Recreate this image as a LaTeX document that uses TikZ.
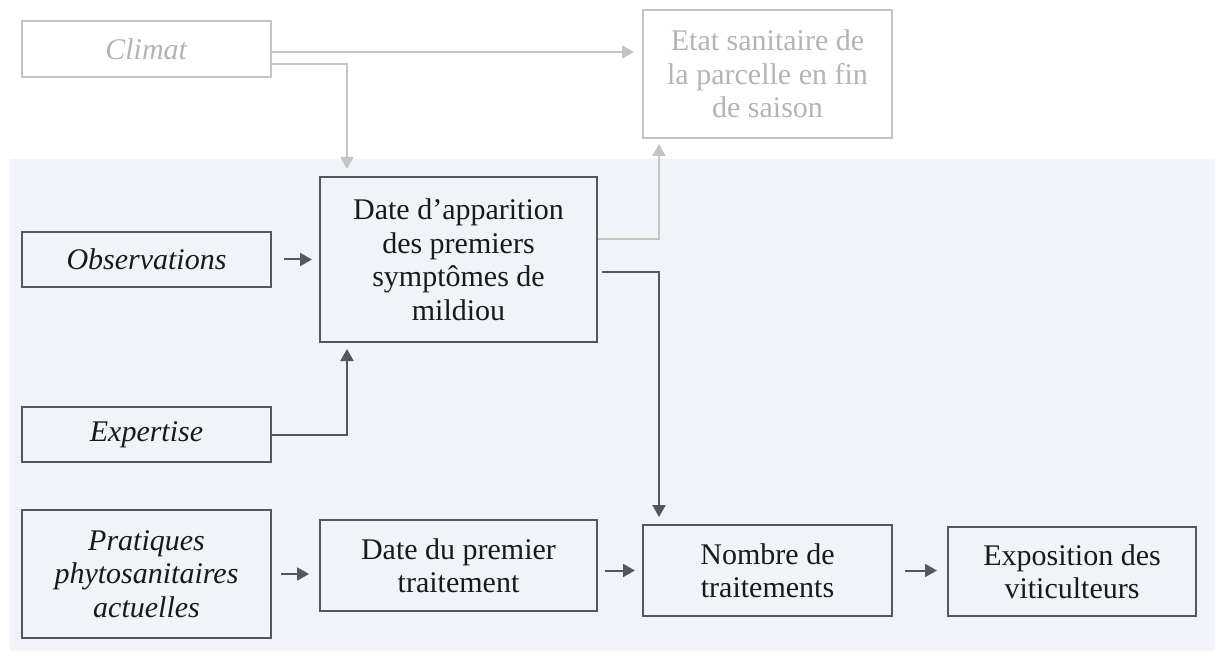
\documentclass[tikz,border=0pt]{standalone}
\usepackage{fontspec}
\setmainfont{Liberation Serif}
\usetikzlibrary{arrows.meta, positioning, calc}
\definecolor{darkline}{RGB}{84, 88, 92}
\definecolor{darktext}{RGB}{25, 25, 25}
\definecolor{greyline}{RGB}{196, 196, 196}
\definecolor{greytext}{RGB}{180, 180, 180}
\definecolor{panelbg}{RGB}{240, 244, 248}

\begin{document}
\begin{tikzpicture}[x=0.5pt, y=-0.5pt,
  box/.style={draw=darkline, line width=1pt, text=darktext, align=center,
              inner sep=0pt, font=\fontsize{15}{16.75}\selectfont},
  faded/.style={box, draw=greyline, text=greytext},
  darrow/.style={draw=darkline, line width=1pt, -{Triangle[length=6pt, width=6.5pt]}},
  garrow/.style={darrow, draw=greyline},
]
\useasboundingbox (0,0) rectangle (1215,652);
% Background panel
\fill[panelbg] (10,159) rectangle (1215,651);

% Context (faded)
\node[faded, minimum width=124.5pt, minimum height=28pt] (clim) at (146.5, 49) {\textit{Climat}};
\node[faded, minimum width=124.5pt, minimum height=64pt] (etat) at (767.5, 74)
     {Etat sanitaire de\\la parcelle en fin\\de saison};

% Inputs on the left
\node[box, minimum width=124.5pt, minimum height=27.5pt] (obs) at (146.5, 259.5) {\textit{Observations}};
\node[box, minimum width=124.5pt, minimum height=27.5pt] (expert) at (146.5, 434.5) {\textit{Expertise}};
\node[box, minimum width=124.5pt, minimum height=64pt] (prat) at (146.5, 574)
     {\textit{Pratiques}\\\textit{phytosanitaires}\\\textit{actuelles}};

% Main chain
\node[box, minimum width=138.5pt, minimum height=82.5pt] (app) at (458.5, 259.5)
     {Date d'apparition\\des premiers\\symptômes de\\mildiou};
\node[box, minimum width=138.5pt, minimum height=45.5pt] (trait1) at (458.5, 565.5)
     {Date du premier\\traitement};
\node[box, minimum width=124.5pt, minimum height=45.5pt] (nbtrt) at (767.5, 570.5)
     {Nombre de\\traitements};
\node[box, minimum width=124pt, minimum height=44.5pt] (expo) at (1072, 571.5)
     {Exposition des\\viticulteurs};

% Faded connectors
\draw[garrow, shorten >=4pt] ([yshift=-1.5pt]clim.east) -- ([yshift=-1.5pt]clim.east -| etat.west);
\draw[garrow, shorten >=3.5pt] ([yshift=-7.5pt]clim.east) -| ([xshift=14pt]app.north west);
\draw[garrow, shorten >=2.5pt] ([yshift=10.25pt]app.east) -| ([xshift=8.5pt]etat.south west);

% Dark connectors
\draw[darrow, shorten <=6pt, shorten >=3.5pt] (obs.east) -- (obs.east -| app.west);
\draw[darrow, shorten >=3pt] (expert.east) -| ([xshift=14pt]app.south west);
\draw[darrow, shorten <=2pt, shorten >=3.5pt] ([yshift=-6.25pt]app.east) -| ([xshift=8.5pt]nbtrt.north west);
\draw[darrow, shorten <=4.5pt, shorten >=5pt] (prat.east) -- (prat.east -| trait1.west);
\draw[darrow, shorten <=3.5pt, shorten >=3.5pt] (nbtrt.west -| trait1.east) -- (nbtrt.west);
\draw[darrow, shorten <=6pt, shorten >=5pt] (nbtrt.east) -- (nbtrt.east -| expo.west);
\end{tikzpicture}
\end{document}
